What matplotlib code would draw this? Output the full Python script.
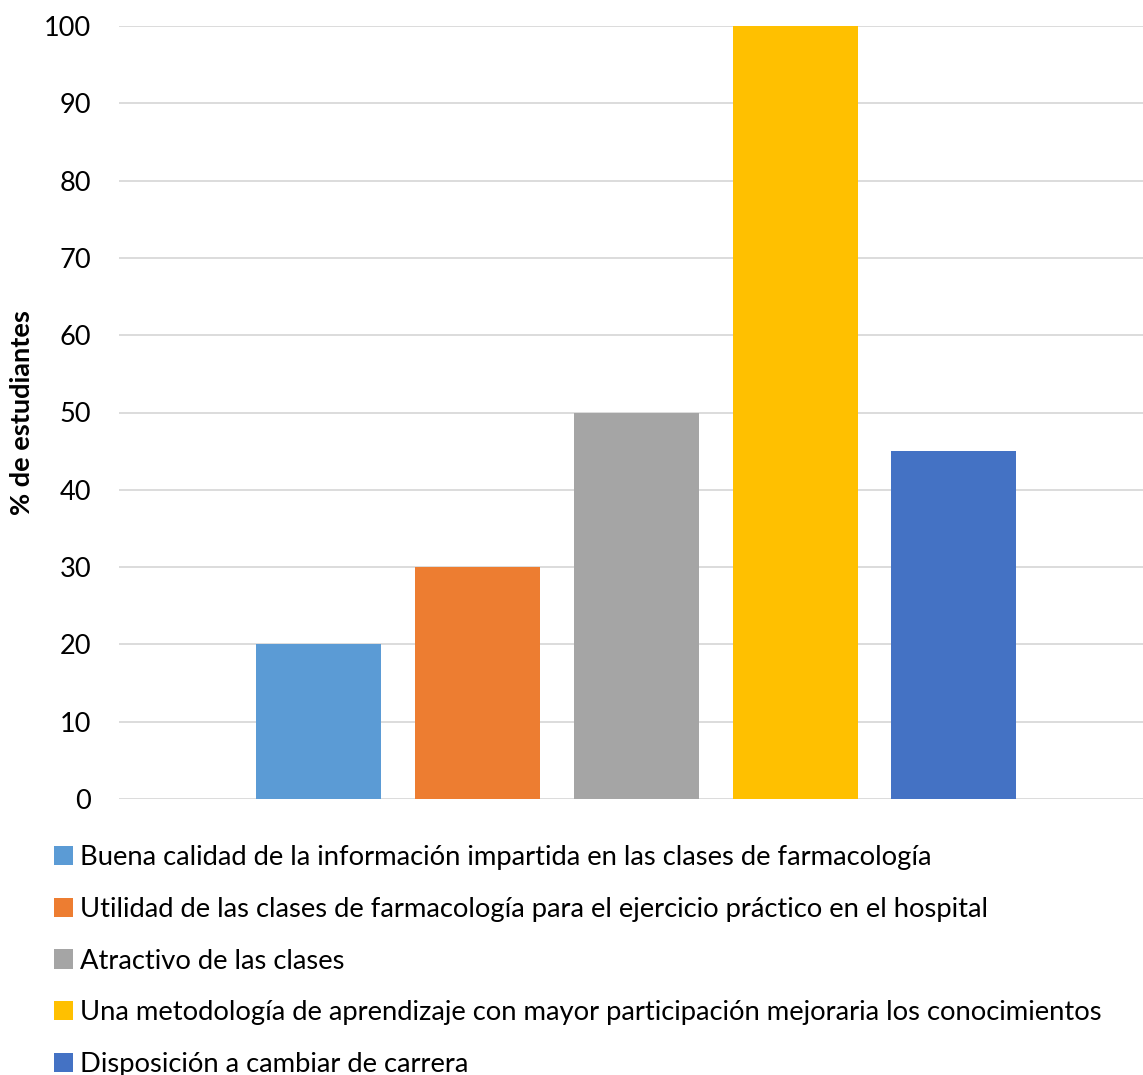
import matplotlib
matplotlib.use('Agg')
import matplotlib.pyplot as plt
from matplotlib.patches import Patch

categorias = ["Buena calidad de la información impartida en las clases de farmacología",
              "Utilidad de las clases de farmacología para el ejercicio práctico en el hospital",
              "Atractivo de las clases",
              "Una metodología de aprendizaje con mayor participación mejoraria los conocimientos",
              "Disposición a cambiar de carrera"]
valores = [20, 30, 50, 100, 45]
colores = ["#5B9BD5", "#ED7D31", "#A5A5A5", "#FFC000", "#4472C4"]
yticks = list(range(0, 101, 10))

plt.rcParams['font.family'] = ['Lato', 'DejaVu Sans']

fig = plt.figure(figsize=(11.43, 10.75), dpi=100)
ax = fig.add_axes([119/1143, 1-799/1075, 1-119/1143, (799-26)/1075])

for i in range(len(valores)):
    ax.bar(i, valores[i], width=0.787, color=colores[i], zorder=3)

ax.set_xlim(-1.256, 5.19)
ax.set_ylim(0, 100)
ax.set_yticks(yticks)
ax.set_xticks([])
ax.tick_params(axis='y', length=0, pad=20, labelsize=19.5)
ax.grid(axis='y', color='#D9D9D9', linewidth=1.3, zorder=0)
for s in ax.spines.values():
    s.set_visible(False)
ax.set_ylabel("% de estudiantes", fontsize=19.5, fontweight='bold')
ax.yaxis.set_label_coords(-0.083, 0.5)

handles = [Patch(facecolor=c) for c in colores]
fig.legend(handles, categorias, loc='upper left', bbox_to_anchor=(43/1143, 1-834/1075),
           frameon=False, fontsize=19.7, handlelength=0.7, handleheight=0.7,
           handletextpad=0.25, labelspacing=0.98, borderaxespad=0)

plt.savefig("out.png", dpi=100)
